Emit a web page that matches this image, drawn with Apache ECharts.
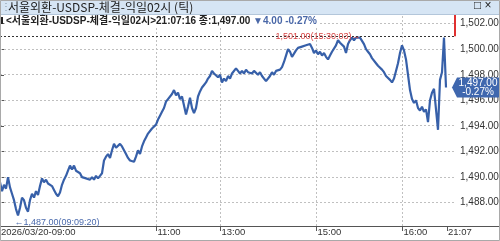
<!DOCTYPE html>
<html><head><meta charset="utf-8">
<script src="https://cdn.jsdelivr.net/npm/echarts@6/dist/echarts.min.js"></script>
<style>html,body{margin:0;padding:0;background:#fff}#c{width:500px;height:241px}</style>
</head><body><div id="c"></div>
<script>
// ---- data ----
const prices = [
1489.6,1488.9,1489.4,1489.1,1490.0,1489.2,1488.7,1488.2,1487.5,1487.0,
1487.6,1488.4,1488.2,1487.6,1487.3,1488.2,1488.7,1488.4,1488.9,1488.6,
1489.3,1489.9,1489.6,1489.8,1489.5,1489.6,1489.3,1489.0,1488.7,1488.5,
1488.8,1489.4,1489.8,1490.1,1490.5,1490.9,1490.6,1490.9,1490.5,1490.6,
1490.3,1490.0,1490.1,1489.9,1490.0,1489.8,1490.0,1489.8,1490.1,1489.9,
1490.1,1490.3,1491.3,1491.6,1491.8,1491.5,1492.1,1492.6,1492.3,1492.2,
1492.6,1492.4,1492.1,1491.8,1491.5,1491.3,1491.4,1491.2,1491.6,1492.1,
1491.8,1492.4,1492.8,1493.1,1493.4,1493.3,1493.8,1493.7,1494.1,1494.5,
1494.8,1495.1,1495.4,1495.9,1496.1,1496.0,1496.5,1496.8,1496.4,1496.6,
1496.1,1496.3,1495.6,1494.9,1495.5,1496.2,1495.4,1495.0,1495.4,1496.3,
1496.7,1497.0,1497.2,1497.4,1497.7,1497.9,1498.3,1498.1,1498.2,1497.8,
1498.0,1497.4,1497.7,1497.5,1497.9,1497.7,1498.1,1498.0,1498.5,1498.3,
1498.1,1498.3,1498.1,1498.4,1498.2,1498.3,1498.1,1498.3,1498.2,1498.0,
1498.2,1497.9,1497.8,1497.5,1497.4,1497.9,1498.2,1498.0,1498.3,1498.2,
1498.4,1498.6,1499.0,1499.5,1500.0,1499.8,1499.4,1499.5,1499.9,1500.1,
1500.0,1500.2,1500.1,1500.3,1500.2,1500.4,1500.1,1499.7,1499.9,1499.6,
1499.8,1499.5,1499.7,1499.4,1499.2,1499.5,1499.8,1499.9,1500.3,1500.7,
1500.5,1500.6,1500.2,1499.7,1500.4,1500.7,1500.9,1500.7,1500.9,1500.8,
1500.9,1501.0,1500.4,1500.0,1499.8,1499.6,1499.3,1499.2,1498.9,1498.7,
1498.8,1498.4,1498.2,1497.9,1498.0,1497.6,1497.4,1497.7,1498.3,1498.9,
1499.7,1500.3,1499.9,1499.2,1498.0,1496.8,1496.1,1495.8,1496.0,1495.4,
1495.2,1495.5,1495.1,1495.3,1494.3,1496.0,1496.6,1496.9,1496.8,1493.7,
1497.6,1498.2,1500.9,1497.0
];
const xTickIdx = [0, 78.25, 110.25, 158.25, 201.25, 223.5];
const xTickLabels = ['2026/03/20-09:00', '11:00', '13:00', '15:00', '16:00', '21:07'];
const yTicks = [1488, 1490, 1492, 1494, 1496, 1498, 1500, 1502];
const highTime = '15:30:03';
const lowTime = '09:09:20';
const lastTime = '21:07:16';
const prevClose = 1501.00;
const seriesName = '서울외환-USDSP-체결-익일02시';

// ---- derived ----
const X_MIN = 0, X_MAX = 227.5, Y_MIN = 1486.18, Y_MAX = 1502.67;
const fmt = v => v.toLocaleString('en-US', {minimumFractionDigits: 2, maximumFractionDigits: 2});
const hi = Math.max(...prices), lo = Math.min(...prices);
const hiIdx = prices.indexOf(hi), loIdx = prices.indexOf(lo);
const lastIdx = prices.length - 1, last = prices[lastIdx];
const chg = last - prevClose, pct = chg / prevClose * 100;
const chgText = (chg < 0 ? '▼' : '▲') + fmt(Math.abs(chg)) + ' ' + (pct < 0 ? '-' : '+') + Math.abs(pct).toFixed(2) + '%';
const pctText = (pct < 0 ? '-' : '+') + Math.abs(pct).toFixed(2) + '%';

const FONT = "'Liberation Sans', 'Noto Sans CJK KR', sans-serif";
const KFONT = "'Noto Sans CJK KR', 'Liberation Sans', sans-serif";
const BLUE = '#3760a9';
const grid = {left: 0, right: 45, top: 15, bottom: 15};

// grid line items: [x, y, kind]  kind 0 = horizontal at y, kind 1 = vertical at x
const gridItems = yTicks.map(v => [X_MIN, v, 0]).concat(xTickIdx.slice(1, -1).map(v => [v, Y_MIN, 1]));

function helper(z, lineStyle, data) {
  return {type: 'line', data: [], silent: true, z: z, clip: false,
    markLine: {silent: true, symbol: 'none', label: {show: false}, lineStyle: lineStyle,
      emphasis: {disabled: true}, data: data}};
}

const chart = echarts.init(document.getElementById('c'), null, {renderer: 'canvas'});
chart.setOption({
  animation: false,
  backgroundColor: '#fff',
  title: [
    {text: seriesName + ' (틱)', left: 8, top: 1, padding: 0,
     textStyle: {fontFamily: KFONT, fontSize: 12, fontWeight: 'normal', color: '#222'}},
    {text: '{a|<' + seriesName + '>' + lastTime + ' 종:' + fmt(last) + ' }{b|' + chgText + '}',
     left: 5, top: 15, padding: [1, 3, 1, 1], backgroundColor: '#fff',
     textStyle: {rich: {
       a: {fontFamily: FONT, fontSize: 10, color: '#222'},
       b: {fontFamily: FONT, fontSize: 10, color: '#4a68a8'}
     }}}
  ],
  graphic: [
    {type: 'rect', left: 0, top: 0, z: -1, shape: {width: 500, height: 14}, style: {fill: '#d6e5f4'}},
    {type: 'line', z: 5, shape: {x1: 0, y1: 14.5, x2: 500, y2: 14.5}, style: {stroke: '#b3c6da', lineWidth: 1}},
    {type: 'text', left: 474, top: 0, z: 5, style: {text: '□ ×', font: "12px " + FONT, fill: '#222'}},
    {type: 'text', left: 1, top: 2, z: 5, style: {text: '⋮', font: "10px " + FONT, fill: '#8899aa'}},
    {type: 'rect', left: 1, top: 17, z: 20, shape: {width: 2, height: 7}, style: {fill: '#222'}},
    {type: 'line', z: 5, shape: {x1: 455, y1: 226.5, x2: 500, y2: 226.5}, style: {stroke: '#555', lineWidth: 1}},
    {type: 'rect', z: 30, shape: {x: 0.5, y: 0.5, width: 499, height: 240}, style: {fill: 'none', stroke: '#a9a9a9', lineWidth: 1}}
  ],
  grid: Object.assign({outerBoundsMode: 'none', containLabel: false}, grid),
  xAxis: {
    type: 'value', min: X_MIN, max: X_MAX,
    axisLine: {show: true, lineStyle: {color: '#555', width: 1}},
    axisTick: {show: true, customValues: xTickIdx, length: 5, lineStyle: {color: '#555'}},
    splitLine: {show: false},
    axisLabel: {customValues: xTickIdx, align: 'left', margin: 2, padding: [0, 0, 0, 1],
      fontFamily: FONT, fontSize: 9.5, color: '#333',
      formatter: v => { const k = xTickIdx.indexOf(v); return k >= 0 ? xTickLabels[k] : ''; }}
  },
  yAxis: {
    type: 'value', position: 'right', min: Y_MIN, max: Y_MAX,
    axisLine: {show: true, lineStyle: {color: '#2f58a6', width: 2}},
    axisTick: {show: true, customValues: yTicks, length: 4, lineStyle: {color: '#555'}},
    splitLine: {show: false},
    axisLabel: {customValues: yTicks, align: 'left', margin: 5, fontFamily: FONT, fontSize: 10, color: '#333',
      formatter: v => fmt(v)}
  },
  series: [
    {
      type: 'custom', z: 1, silent: true, clip: false,
      data: gridItems,
      renderItem: function (params, api) {
        const kind = api.value(2);
        let p1, p2;
        if (kind === 0) {
          p1 = api.coord([X_MIN, api.value(1)]);
          p2 = api.coord([X_MAX, api.value(1)]);
          const y = Math.floor(p1[1]) + 0.5;
          return {type: 'line', silent: true,
            shape: {x1: p1[0], y1: y, x2: p2[0], y2: y},
            style: {stroke: '#c0c0c0', lineWidth: 1, lineDash: [2, 2], fill: null}};
        }
        p1 = api.coord([api.value(0), Y_MIN]);
        p2 = api.coord([api.value(0), Y_MAX]);
        const x = Math.floor(p1[0]) + 0.5;
        return {type: 'line', silent: true,
          shape: {x1: x, y1: p1[1], x2: x, y2: p2[1]},
          style: {stroke: '#c0c0c0', lineWidth: 1, lineDash: [2, 2], fill: null}};
      }
    },
    helper(2, {color: '#333', type: [2, 2], width: 1}, [{yAxis: hi}]),
    helper(4, {color: '#e03030', type: 'solid', width: 2}, [[{coord: [X_MAX, hi]}, {coord: [X_MAX, Y_MAX]}]]),
    {
    type: 'line', clip: false, showSymbol: false, symbol: 'none', z: 3,
    data: prices.map((v, i) => [i, v]),
    lineStyle: {color: BLUE, width: 2.2},
    markPoint: {
      silent: true,
      data: [
        {coord: [hiIdx, hi], symbol: 'circle', symbolSize: 1, itemStyle: {color: 'rgba(0,0,0,0)'},
         label: {show: true, position: 'left', distance: 1, formatter: fmt(hi) + '(' + highTime + ')→',
           fontFamily: FONT, fontSize: 9, color: '#d64545'}},
        {coord: [loIdx, lo], symbol: 'circle', symbolSize: 1, itemStyle: {color: 'rgba(0,0,0,0)'},
         label: {show: true, position: 'right', distance: 0, offset: [-4, 7], formatter: '←' + fmt(lo) + '(' + lowTime + ')',
           fontFamily: FONT, fontSize: 9, color: '#4a6aad'}},
        {coord: [lastIdx, last], symbol: 'path://M0,10L5,0L48,0L48,20L5,20Z', symbolSize: [48, 20], symbolOffset: [30, 0],
         itemStyle: {color: '#3f67ae'},
         label: {show: true, position: 'inside', offset: [2, 0], formatter: fmt(last) + '\n' + pctText,
           fontFamily: FONT, fontSize: 10, lineHeight: 9.5, color: '#fff'}}
      ]
    }
  }]
});
</script></body></html>
